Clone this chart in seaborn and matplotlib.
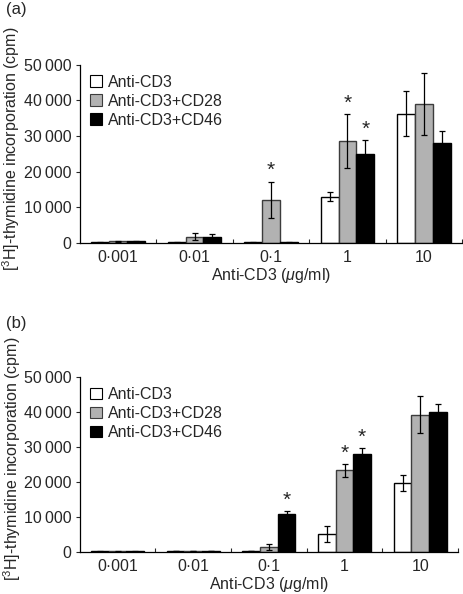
import pandas as pd
import seaborn as sns
import matplotlib.pyplot as plt

# ==========================================
# DATA
# ==========================================
doses = ['0·001', '0·01', '0·1', '1', '10']
series = ['Anti-CD3', 'Anti-CD3+CD28', 'Anti-CD3+CD46']

# panel (a)
a_cd3 = [200, 200, 200, 13000, 36300]
a_cd28 = [500, 1800, 12100, 28500, 39000]
a_cd46 = [500, 1700, 200, 25000, 28000]
a_cd3_err = [100, 100, 100, 1200, 6200]
a_cd28_err = [150, 900, 5100, 7600, 8800]
a_cd46_err = [150, 800, 100, 3900, 3500]
a_stars = [('0·1', 'Anti-CD3+CD28'), ('1', 'Anti-CD3+CD28'), ('1', 'Anti-CD3+CD46')]

# panel (b)
b_cd3 = [100, 150, 200, 5100, 19700]
b_cd28 = [100, 200, 1300, 23300, 39300]
b_cd46 = [100, 150, 10700, 28000, 39900]
b_cd3_err = [50, 50, 50, 2200, 2200]
b_cd28_err = [50, 50, 800, 1900, 5200]
b_cd46_err = [50, 50, 900, 1600, 2300]
b_stars = [('0·1', 'Anti-CD3+CD46'), ('1', 'Anti-CD3+CD28'), ('1', 'Anti-CD3+CD46')]

colors = ['white', '#b2b2b2', 'black']
edges = ['black', '#3c3c3c', 'black']

# ==========================================
# SETUP & THEMING
# ==========================================
sns.set_theme(style="ticks")
plt.rcParams['font.family'] = ['Liberation Sans', 'DejaVu Sans']
plt.rcParams['mathtext.fontset'] = 'custom'
plt.rcParams['mathtext.rm'] = 'Liberation Sans'
plt.rcParams['mathtext.it'] = 'Liberation Sans:italic'


def long_table(vals, errs):
    rows = []
    for s, v, e in zip(series, vals, errs):
        for d, vi, ei in zip(doses, v, e):
            rows.append({'dose': d, 'group': s, 'cpm': vi, 'err': ei})
    return pd.DataFrame(rows)


def draw_panel(ax, data, stars):
    sns.barplot(data=data, x='dose', y='cpm', hue='group', order=doses,
                hue_order=series, palette=colors, width=0.7, errorbar=None,
                saturation=1, ax=ax, legend=True)
    for cont, ec, s in zip(ax.containers, edges, series):
        sub = data[data['group'] == s].set_index('dose').loc[doses]
        xs = []
        for bar in cont:
            bar.set_edgecolor(ec)
            bar.set_linewidth(1.0)
            xs.append(bar.get_x() + bar.get_width() / 2)
        ax.errorbar(xs, sub['cpm'], yerr=sub['err'], fmt='none', ecolor='black',
                    elinewidth=0.9, capsize=2, capthick=0.9, zorder=5)
        for d, xc in zip(doses, xs):
            if (d, s) in stars:
                top = sub.loc[d, 'cpm'] + sub.loc[d, 'err']
                ax.text(xc, top + 400, '*', ha='center', va='bottom', fontsize=15)

    ax.set_ylim(0, 50000)
    ax.set_xlim(-0.5, 4.5)
    ax.set_yticks([0, 10000, 20000, 30000, 40000, 50000])
    ax.set_yticklabels(['0', '10\u2009000', '20\u2009000', '30\u2009000', '40\u2009000', '50\u2009000'])
    ax.tick_params(axis='y', labelsize=11.5, length=3, width=0.8, pad=3)
    ax.tick_params(axis='x', length=0, labelsize=11.5, pad=5)
    # small ticks between dose groups
    ax.set_xticks([0.5, 1.5, 2.5, 3.5, 4.5], minor=True)
    ax.tick_params(axis='x', which='minor', direction='in', length=3, width=0.8)
    sns.despine(ax=ax)
    for sp in ['left', 'bottom']:
        ax.spines[sp].set_linewidth(0.9)
        ax.spines[sp].set_color('black')
    ax.set_xlabel('Anti-CD3 ($\\mu$g/ml)', fontsize=11.5, labelpad=1)
    ax.set_ylabel('[$^{3}$H]-thymidine incorporation (cpm)', fontsize=11.5)
    ax.yaxis.set_label_coords(-0.15, 0.53)
    leg = ax.legend(loc='upper left', frameon=False, fontsize=11.5, handlelength=0.75,
                    handleheight=0.75, handletextpad=0.4, labelspacing=0.25,
                    borderaxespad=0.0, bbox_to_anchor=(0.01, 0.98))
    for h, ec in zip(leg.legend_handles, edges):
        h.set_edgecolor(ec)
        h.set_linewidth(0.8)


fig = plt.figure(figsize=(4.64, 5.94), dpi=100)
ax_a = fig.add_axes([0.172, 0.591, 0.824, 0.300])
ax_b = fig.add_axes([0.172, 0.071, 0.815, 0.294])

draw_panel(ax_a, long_table([a_cd3, a_cd28, a_cd46], [a_cd3_err, a_cd28_err, a_cd46_err]), a_stars)
draw_panel(ax_b, long_table([b_cd3, b_cd28, b_cd46], [b_cd3_err, b_cd28_err, b_cd46_err]), b_stars)

fig.text(0.012, 0.997, '(a)', fontsize=12, va='top', ha='left')
fig.text(0.012, 0.468, '(b)', fontsize=12, va='top', ha='left')

fig.savefig('out.png', dpi=100)
